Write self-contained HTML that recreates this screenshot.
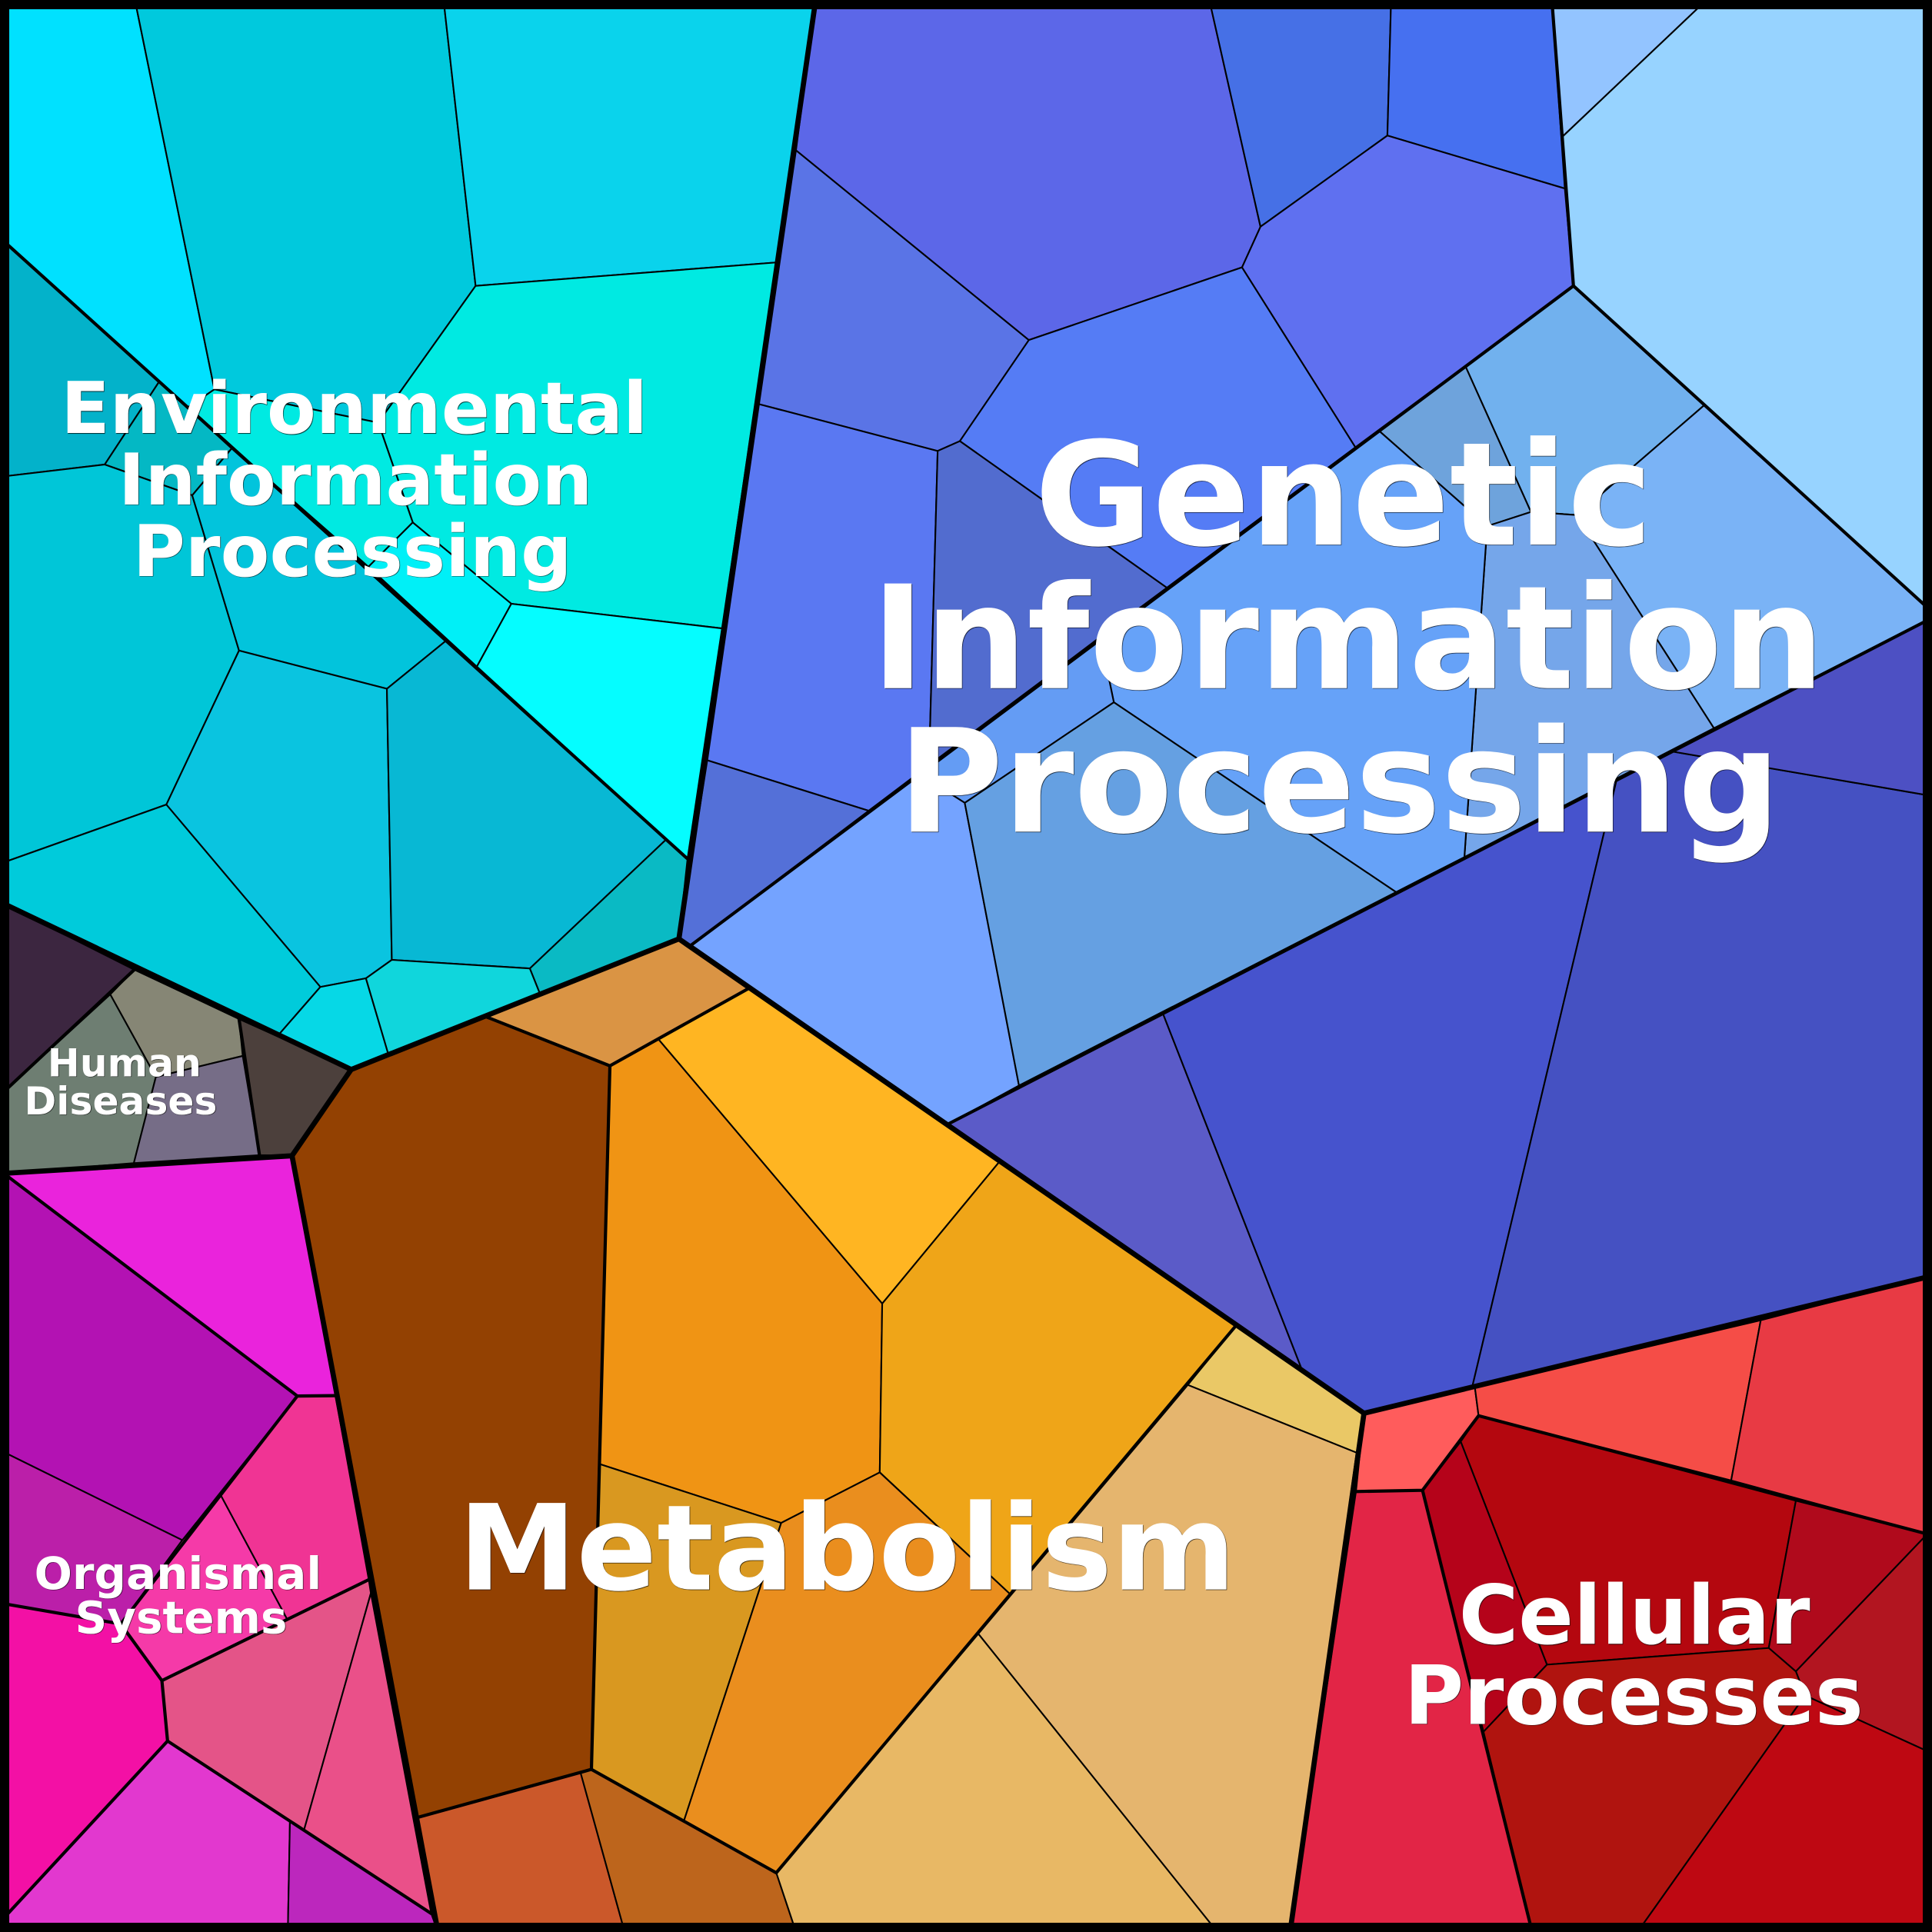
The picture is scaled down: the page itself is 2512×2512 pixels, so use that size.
<!DOCTYPE html>
<html><head><meta charset="utf-8"><style>
html,body{margin:0;padding:0;background:#000}
svg{display:block}
.c polygon{stroke:#000;stroke-width:1.3;stroke-linejoin:round}
.m{fill:none;stroke:#000;stroke-width:2.6;stroke-linejoin:round;stroke-linecap:round}
.t{fill:none;stroke:#000;stroke-width:4.2;stroke-linejoin:round;stroke-linecap:round}
text{font-family:"DejaVu Sans",sans-serif;font-weight:bold;fill:#fff;text-anchor:middle;text-shadow:0.7px 0.7px 0.6px rgba(0,0,0,.75)}
</style></head><body>
<svg xmlns="http://www.w3.org/2000/svg" width="2512" height="2512" viewBox="0 0 1568 1568">
<g class="c">
<polygon fill="#00e1ff" points="0,0 109.5,0 174,316 152,331 0,193"/>
<polygon fill="#00c9dd" points="109.5,0 360,0 386,232 307,343 174,316"/>
<polygon fill="#0ad3ec" points="360,0 662,0 630,213 386,232"/>
<polygon fill="#00eae2" points="386,232 630,213 586,510 415,490 335,424 307,343"/>
<polygon fill="#00eae2" points="174,316 307,343 335,424 299,460 152,331"/>
<polygon fill="#00f0f7" points="335,424 415,490 387,541 299,460"/>
<polygon fill="#05fdff" points="415,490 586,510 558,697 387,541"/>
<polygon fill="#03b2ca" points="0,193 129,310 85,377 0,387"/>
<polygon fill="#04b8c4" points="129,310 188,364 156,402 85,377"/>
<polygon fill="#00c6d8" points="0,387 85,377 156,402 194,528 135,653 0,701"/>
<polygon fill="#02c4dc" points="156,402 188,364 362,520 314,559 194,528"/>
<polygon fill="#0ac4e0" points="194,528 314,559 318,779 297,794 260,801 135,653"/>
<polygon fill="#08b8d4" points="314,559 362,520 541,681 430,786 318,779"/>
<polygon fill="#0abac4" points="541,681 558,697 551,762 438,806 430,786"/>
<polygon fill="#00cbdb" points="0,701 135,653 260,801 226,840 0,732"/>
<polygon fill="#06d8e6" points="260,801 297,794 315,855 285,868 226,840"/>
<polygon fill="#10d6dc" points="297,794 318,779 430,786 438,806 315,855"/>

<polygon fill="#5c67e8" points="662,0 981.5,0 1023,184 1008,217 835,276 646,122"/>
<polygon fill="#4670e6" points="981.5,0 1129,0 1126,110 1023,184"/>
<polygon fill="#4670f0" points="1129,0 1259.5,0 1270,153 1126,110"/>
<polygon fill="#5f70f0" points="1126,110 1270,153 1277,232 1100,363 1008,217 1023,184"/>
<polygon fill="#5a74e6" points="646,122 835,276 779,358 761,366 616,328"/>
<polygon fill="#557cf5" points="835,276 1008,217 1100,363 947,477 779,358"/>
<polygon fill="#5a78f2" points="616,328 761,366 754,621 705,658 574,617"/>
<polygon fill="#5470d8" points="574,617 705,658 561,767 551,762"/>
<polygon fill="#526ccf" points="761,366 779,358 947,477 754,621"/>

<polygon fill="#71b1ee" points="1189.5,297.6 1277,232 1383,329 1280,418 1242.5,415.5"/>
<polygon fill="#6ea3dc" points="1119.6,350 1189.5,297.6 1242.5,415.5 1207,427"/>
<polygon fill="#7ab3f6" points="1383,329 1568,496.5 1568,501.5 1391,591 1280,418"/>
<polygon fill="#75a6ea" points="1207,427 1242.5,415.5 1280,418 1391,591 1188.5,695.6"/>
<polygon fill="#66a2f8" points="893,517 1119.6,350 1207,427 1188.5,695.6 1133,724 904,570"/>
<polygon fill="#649cf4" points="746,628 893,517 904,570 783,651.6"/>
<polygon fill="#74a3ff" points="561,767 746,628 783,651.6 827,881 770,912"/>
<polygon fill="#65a0e2" points="783,651.6 904,570 1133,724 827,881"/>

<polygon fill="#5b5bc8" points="770,912 944,823 1056,1110"/>
<polygon fill="#4653cd" points="944,823 1312,633 1195,1125 1107,1147 1056,1110"/>
<polygon fill="#4551c2" points="1312,633 1357.6,610 1568,646 1568,1035.5 1195,1125"/>
<polygon fill="#4d50c3" points="1357.6,610 1568,501.5 1568,646"/>

<polygon fill="#93c4ff" points="1259.5,0 1385,0 1268,111"/>
<polygon fill="#97d3ff" points="1385,0 1568,0 1568,496.5 1277,232 1268,111"/>

<polygon fill="#934102" points="237,938 285,868 394,825 495,865 480,1436 339,1475"/>
<polygon fill="#da9444" points="394,825 551,762 608,802 495,865"/>
<polygon fill="#ffb522" points="608,802 811,943 716,1058 534,843"/>
<polygon fill="#f09414" points="534,843 716,1058 714,1195 634,1236 486,1188 495,865"/>
<polygon fill="#efa518" points="811,943 1003,1076 820,1294 714,1195 716,1058"/>
<polygon fill="#d99820" points="486,1188 634,1236 555,1478 480,1436"/>
<polygon fill="#ea8e1e" points="634,1236 714,1195 820,1294 630,1520 555,1478"/>
<polygon fill="#eac866" points="1003,1076 1107,1147 1101,1179 964,1124"/>
<polygon fill="#e5b56e" points="964,1124 1101,1179 1047,1568 988,1568 794,1326"/>
<polygon fill="#e8b865" points="794,1326 988,1568 646,1568 630,1520"/>
<polygon fill="#cb582a" points="339,1475 471,1438 507,1568 355.5,1568"/>
<polygon fill="#bd651c" points="471,1438 480,1436 630,1520 646,1568 507,1568"/>

<polygon fill="#ff5c5c" points="1107,1147 1197,1126 1200,1149 1154.5,1209.5 1100.5,1210.5"/>
<polygon fill="#f54d47" points="1197,1126 1429,1071.5 1405,1201.5 1200,1149"/>
<polygon fill="#e83a44" points="1429,1071.5 1568,1035.5 1568,1246 1405,1201.5"/>
<polygon fill="#b4070f" points="1200,1149 1457.5,1218 1435.5,1337.5 1255.5,1351 1185.5,1170"/>
<polygon fill="#b5031a" points="1154.5,1209.5 1185.5,1170 1255.5,1351 1204,1405.5"/>
<polygon fill="#b00a1c" points="1457.5,1218 1568,1246 1568,1241 1457.5,1356.5 1435.5,1337.5"/>
<polygon fill="#b21520" points="1568,1241 1568,1423 1465,1376 1457.5,1356.5"/>
<polygon fill="#b0140f" points="1204,1405.5 1255.5,1351 1435.5,1337.5 1457.5,1356.5 1465,1376 1329,1568 1243.5,1568"/>
<polygon fill="#be0812" points="1465,1376 1568,1423 1568,1568 1329,1568"/>
<polygon fill="#e22546" points="1100.5,1210.5 1154.5,1209.5 1243.5,1568 1047,1568"/>

<polygon fill="#3c2640" points="0,732 109,787 0,889"/>
<polygon fill="#6e7e72" points="0,889 89.5,807 126.5,874 108.6,944 0,952.5"/>
<polygon fill="#868675" points="89.5,807 109,787 194,827 197,857 126.5,874"/>
<polygon fill="#766d87" points="126.5,874 197,857 210.6,937.5 108.6,944"/>
<polygon fill="#4c403c" points="194,827 285,868 237,938 210.6,937.5"/>

<polygon fill="#ea23dc" points="0,952.5 237,938 272.3,1132.7 241.3,1133 0,950"/>
<polygon fill="#b312b3" points="0,950 241.3,1133 148,1250 0,1177"/>
<polygon fill="#bb1fa9" points="0,1177 148,1250 98,1318 0,1301"/>
<polygon fill="#f310a5" points="0,1301 98,1318 131.4,1364 136,1413 0,1560"/>
<polygon fill="#f53aa8" points="148,1250 179.2,1213.5 233,1314 131.4,1364 98,1318"/>
<polygon fill="#f03494" points="179.2,1213.5 241.3,1133 272.3,1132.7 299.3,1282 233,1314"/>
<polygon fill="#e45488" points="131.4,1364 299.3,1282 301,1293 246.8,1485 136,1413"/>
<polygon fill="#ea5089" points="301,1293 350,1553 246.8,1485"/>
<polygon fill="#e238cf" points="136,1413 235.3,1478.5 233.6,1568 0,1568 0,1560"/>
<polygon fill="#bc27bd" points="235.3,1478.5 350,1553 355.5,1568 233.6,1568"/>
</g>

<g class="m">
<polyline points="0,193 558,697"/>
<polyline points="1259.5,0 1277,232 561,767"/>
<polyline points="1277,232 1568,496.5"/>
<polyline points="1568,501.5 770,912"/>
<polyline points="394,825 495,865 608,802"/>
<polyline points="495,865 480,1436"/>
<polyline points="339,1475 480,1436 630,1520 1003,1076"/>
<polyline points="1100.5,1210.5 1154.5,1209.5 1200,1149 1568,1246"/>
<polyline points="1154.5,1209.5 1243.5,1568"/>
<polyline points="109,787 0,889"/>
<polyline points="194,827 210.6,937.5"/>
<polyline points="0,950 241.3,1133 272,1132.7"/>
<polyline points="241.3,1133 98,1318"/>
<polyline points="0,1301 98,1318 131.4,1364 136,1413 0,1560"/>
<polyline points="131.4,1364 299.3,1282"/>
<polyline points="136,1413 350,1553"/>
</g>
<g class="t">
<polyline points="662,0 551,762 285,868 0,732"/>
<polyline points="551,762 1107,1147 1568,1035.5"/>
<polyline points="1107,1147 1047,1568"/>
<polyline points="285,868 237,938 0,952.5"/>
<polyline points="237,938 355.5,1568"/>
</g>
<rect x="3.75" y="3.75" width="1560.5" height="1560.5" fill="none" stroke="#000" stroke-width="7.5"/>

<text font-size="58" x="287.5" y="351.5">Environmental</text>
<text font-size="58" x="288.5" y="409.5">Information</text>
<text font-size="58" x="286" y="467.5">Processing</text>

<text font-size="116.6" x="1090.5" y="442">Genetic</text>
<text font-size="116.6" x="1094" y="558.5">Information</text>
<text font-size="116.6" x="1087" y="675">Processing</text>

<text font-size="96.3" x="687.5" y="1290">Metabolism</text>

<text font-size="66" x="1326.5" y="1334">Cellular</text>
<text font-size="66" x="1326" y="1399">Processes</text>

<text font-size="36.2" x="144.5" y="1289.5">Organismal</text>
<text font-size="36.2" x="147" y="1325.5">Systems</text>

<text font-size="31.4" x="101" y="873.5">Human</text>
<text font-size="31.4" x="98" y="904.5">Diseases</text>
</svg>
</body></html>
